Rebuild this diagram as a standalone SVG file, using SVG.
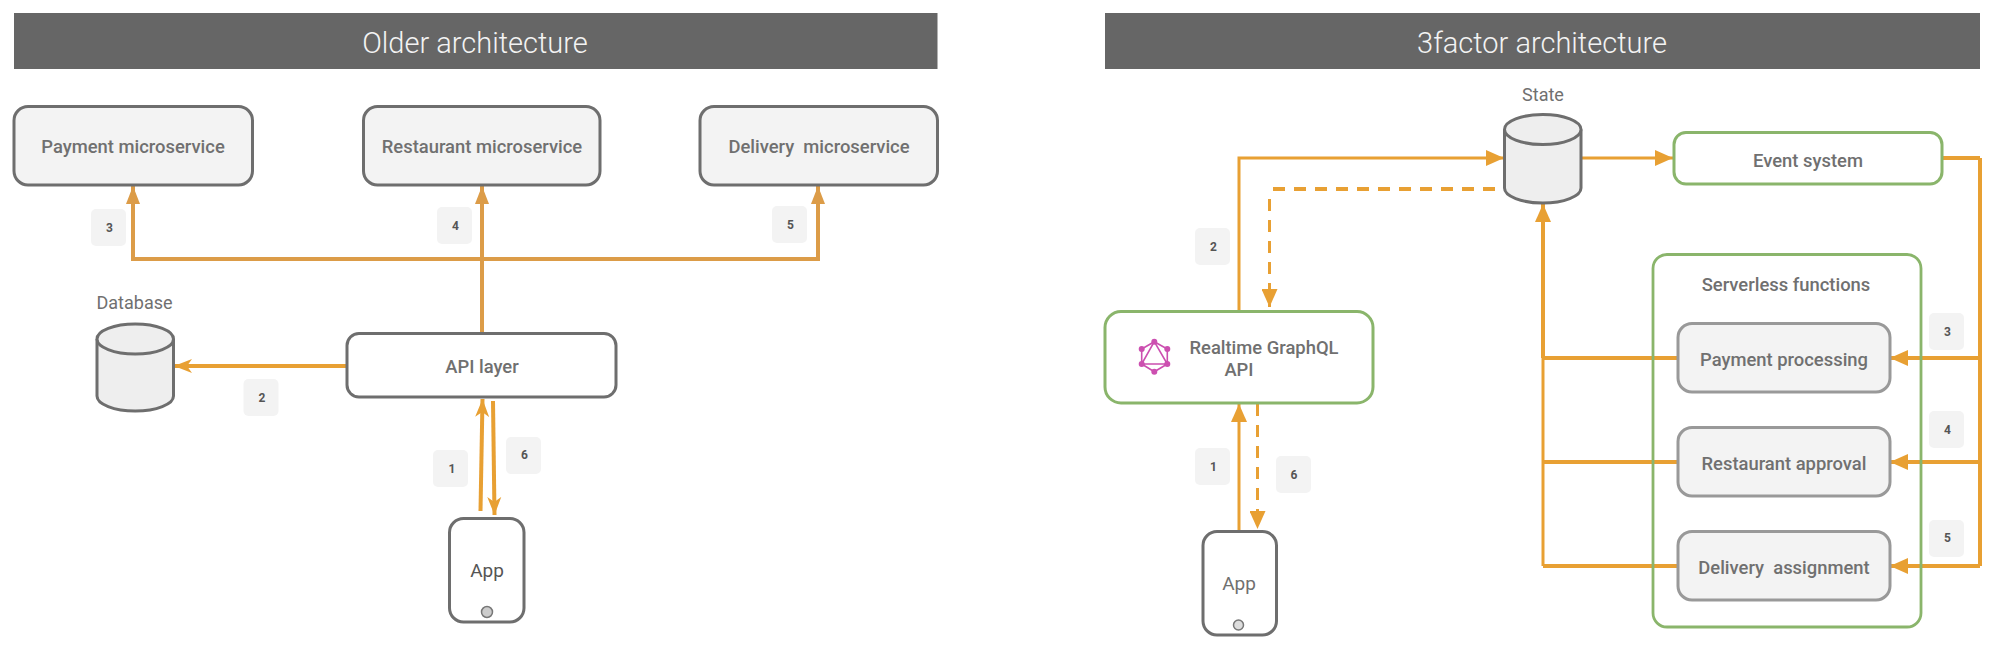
<svg xmlns="http://www.w3.org/2000/svg" width="1994" height="656" viewBox="0 0 1994 656">
<style>
text{font-family:Roboto,"Liberation Sans",sans-serif;text-anchor:middle;fill:#707070}
.h{fill:#666}
.ht{font-size:29px;font-weight:300;fill:#f3f3f3}
.box{fill:#f3f3f3;stroke:#6e6e6e;stroke-width:3}
.w{fill:#fff;stroke:#6e6e6e;stroke-width:3}
.g{fill:#fff;stroke:#8ab56b;stroke-width:3}
.gf{fill:none;stroke:#8ab56b;stroke-width:2.800}
.fn{fill:#f3f3f3;stroke:#999;stroke-width:3}
.t{font-size:18.400px;font-weight:500}
.c{font-size:18px}
.ap{font-size:19px;fill:#555}
.bd{fill:#f3f3f3;stroke:none}
.n{font-size:12px;font-weight:700;fill:#555}
.cy{fill:#eee;stroke:#6e6e6e;stroke-width:3}
.l{fill:none;stroke:#e8a033;stroke-width:3}
.o{stroke:#dc9c48}
.tk{stroke-width:4}
.d{stroke-dasharray:12 9}
.gq{fill:none;stroke:#cc4fb0;stroke-width:1.600}
.gd{fill:#cc4fb0}
</style>
<defs>
<marker id="a" markerUnits="userSpaceOnUse" markerWidth="19" markerHeight="16" refX="18" refY="8" orient="auto"><path d="M0 0L18 8L0 16z" fill="#e8a033"/></marker>
<marker id="o" markerUnits="userSpaceOnUse" markerWidth="19" markerHeight="16" refX="18" refY="8" orient="auto"><path d="M0 1L18 8L0 15z" fill="#dc9c48"/></marker>
<marker id="s" markerUnits="userSpaceOnUse" markerWidth="19" markerHeight="16" refX="18" refY="8" orient="auto"><path d="M0 1L18 8L0 15L5 8z" fill="#e8a033"/></marker>
</defs>
<g id="older-header"><rect class="h" x="14" y="13" width="923.500" height="56"/><text class="ht" x="475" y="53">Older architecture</text></g>
<g id="factor-header"><rect class="h" x="1105" y="13" width="875" height="56"/><text class="ht" x="1542" y="53">3factor architecture</text></g>
<g id="connectors">
<path class="l o tk" d="M482 333V186" marker-end="url(#o)"/>
<path class="l o tk" d="M482 259H133V186" marker-end="url(#o)"/>
<path class="l o tk" d="M482 259H818V186" marker-end="url(#o)"/>
<path class="l tk" d="M347 366H174" marker-end="url(#s)"/>
<path class="l tk" d="M480.500 511L482.500 399" marker-end="url(#s)"/>
<path class="l tk" d="M493 401L494.500 515" marker-end="url(#s)"/>
<path class="l" d="M1239 311V158H1504" marker-end="url(#a)"/>
<path class="l tk d" d="M1495 189H1269.500"/>
<path class="l d" d="M1269.500 199V307" marker-end="url(#a)"/>
<path class="l" d="M1581 158H1673" marker-end="url(#a)"/>
<path class="l tk" d="M1942 158H1980"/>
<path class="l tk" d="M1980 158V566"/>
<path class="l tk" d="M1980 358H1890" marker-end="url(#a)"/>
<path class="l tk" d="M1980 462H1890" marker-end="url(#a)"/>
<path class="l tk" d="M1980 566H1890" marker-end="url(#a)"/>
<path class="l tk" d="M1543 358V204" marker-end="url(#a)"/>
<path class="l" d="M1543 566V358"/>
<path class="l tk" d="M1678 358H1543"/>
<path class="l tk" d="M1678 462H1543"/>
<path class="l tk" d="M1678 566H1543"/>
<path class="l" d="M1239 531V404" marker-end="url(#a)"/>
<path class="l d" d="M1257.500 404V529" marker-end="url(#a)"/>
</g>
<g id="payment-ms"><rect class="box" x="14" y="106.500" width="238.500" height="78.500" rx="14"/><text class="t" x="133" y="153">Payment microservice</text></g>
<g id="restaurant-ms"><rect class="box" x="363.500" y="106.500" width="236.500" height="78.500" rx="14"/><text class="t" x="482" y="153">Restaurant microservice</text></g>
<g id="delivery-ms"><rect class="box" x="700" y="106.500" width="237.500" height="78.500" rx="14"/><text class="t" x="819" y="153" xml:space="preserve">Delivery  microservice</text></g>
<g id="database"><text class="c" x="134.500" y="309">Database</text><path class="cy" d="M97 339V396A38.250 15 0 0 0 173.500 396V339"/><ellipse class="cy" cx="135.250" cy="339" rx="38.250" ry="15"/></g>
<g id="api-layer"><rect class="w" x="347" y="333.500" width="269" height="63.500" rx="12"/><text class="t" x="482" y="373">API layer</text></g>
<g id="app-old"><rect class="w" x="449.500" y="518.500" width="74.500" height="103.500" rx="14"/><text class="ap" x="487" y="577">App</text><circle cx="487" cy="612" r="5.500" fill="#ccc" stroke="#777" stroke-width="1.500"/></g>
<g id="state"><text class="c" x="1543" y="101">State</text><path class="cy" d="M1504.500 129.500V188A38.250 15 0 0 0 1581 188V129.500"/><ellipse class="cy" cx="1542.750" cy="129.500" rx="38.250" ry="15"/></g>
<g id="event-system"><rect class="g" x="1674" y="132.500" width="268" height="51.500" rx="12"/><text class="t" x="1808" y="167">Event system</text></g>
<g id="serverless"><rect class="gf" x="1653" y="254.500" width="268" height="372.500" rx="14"/><text class="t" x="1786" y="291">Serverless functions</text></g>
<g id="payment-processing"><rect class="fn" x="1678" y="323.500" width="212" height="68.500" rx="14"/><text class="t" x="1784" y="366">Payment processing</text></g>
<g id="restaurant-approval"><rect class="fn" x="1678" y="427.500" width="212" height="68.500" rx="14"/><text class="t" x="1784" y="470">Restaurant approval</text></g>
<g id="delivery-assignment"><rect class="fn" x="1678" y="531.500" width="212" height="68.500" rx="14"/><text class="t" x="1784" y="574" xml:space="preserve">Delivery  assignment</text></g>
<g id="graphql-api"><rect class="g" x="1105" y="311.500" width="268" height="91.500" rx="16"/>
<path class="gq" d="M1154.300 341.700L1167.300 364H1141.700ZM1154.300 341.700L1167.300 349V364L1154.300 371.700L1141.700 364V349Z"/>
<g class="gd"><circle cx="1154.300" cy="341.700" r="3"/><circle cx="1167.300" cy="349" r="3"/><circle cx="1167.300" cy="364" r="3"/><circle cx="1154.300" cy="371.700" r="3"/><circle cx="1141.700" cy="364" r="3"/><circle cx="1141.700" cy="349" r="3"/></g>
<text class="t" x="1264" y="354">Realtime GraphQL</text><text class="t" x="1239" y="376">API</text></g>
<g id="app-new"><rect class="w" x="1203" y="531.500" width="73.500" height="103.500" rx="14"/><text class="ap" style="fill:#707070" x="1239" y="590">App</text><circle cx="1238.500" cy="625" r="5" fill="#ddd" stroke="#777" stroke-width="1.500"/></g>
<g id="step-labels">
<g id="o3"><rect class="bd" x="91" y="209" width="35" height="37" rx="5"/><text class="n" x="109.500" y="232">3</text></g>
<g id="o4"><rect class="bd" x="437" y="207" width="35" height="37" rx="5"/><text class="n" x="455.500" y="230">4</text></g>
<g id="o5"><rect class="bd" x="772" y="206" width="35" height="37" rx="5"/><text class="n" x="790.500" y="229">5</text></g>
<g id="o2"><rect class="bd" x="243.500" y="379" width="35" height="37" rx="5"/><text class="n" x="262" y="402">2</text></g>
<g id="o1"><rect class="bd" x="433" y="450" width="35" height="37" rx="5"/><text class="n" x="452" y="473">1</text></g>
<g id="o6"><rect class="bd" x="506" y="437" width="35" height="37" rx="5"/><text class="n" x="524.500" y="459">6</text></g>
<g id="n2"><rect class="bd" x="1195" y="228" width="35" height="37" rx="5"/><text class="n" x="1213.500" y="251">2</text></g>
<g id="n1"><rect class="bd" x="1195" y="448" width="35" height="37" rx="5"/><text class="n" x="1213.500" y="471">1</text></g>
<g id="n6"><rect class="bd" x="1276" y="456" width="35" height="37" rx="5"/><text class="n" x="1294" y="479">6</text></g>
<g id="n3"><rect class="bd" x="1929" y="313" width="35" height="37" rx="5"/><text class="n" x="1947.500" y="336">3</text></g>
<g id="n4"><rect class="bd" x="1929" y="411" width="35" height="37" rx="5"/><text class="n" x="1947.500" y="434">4</text></g>
<g id="n5"><rect class="bd" x="1929" y="520" width="35" height="37" rx="5"/><text class="n" x="1947.500" y="542">5</text></g>
</g>
</svg>
